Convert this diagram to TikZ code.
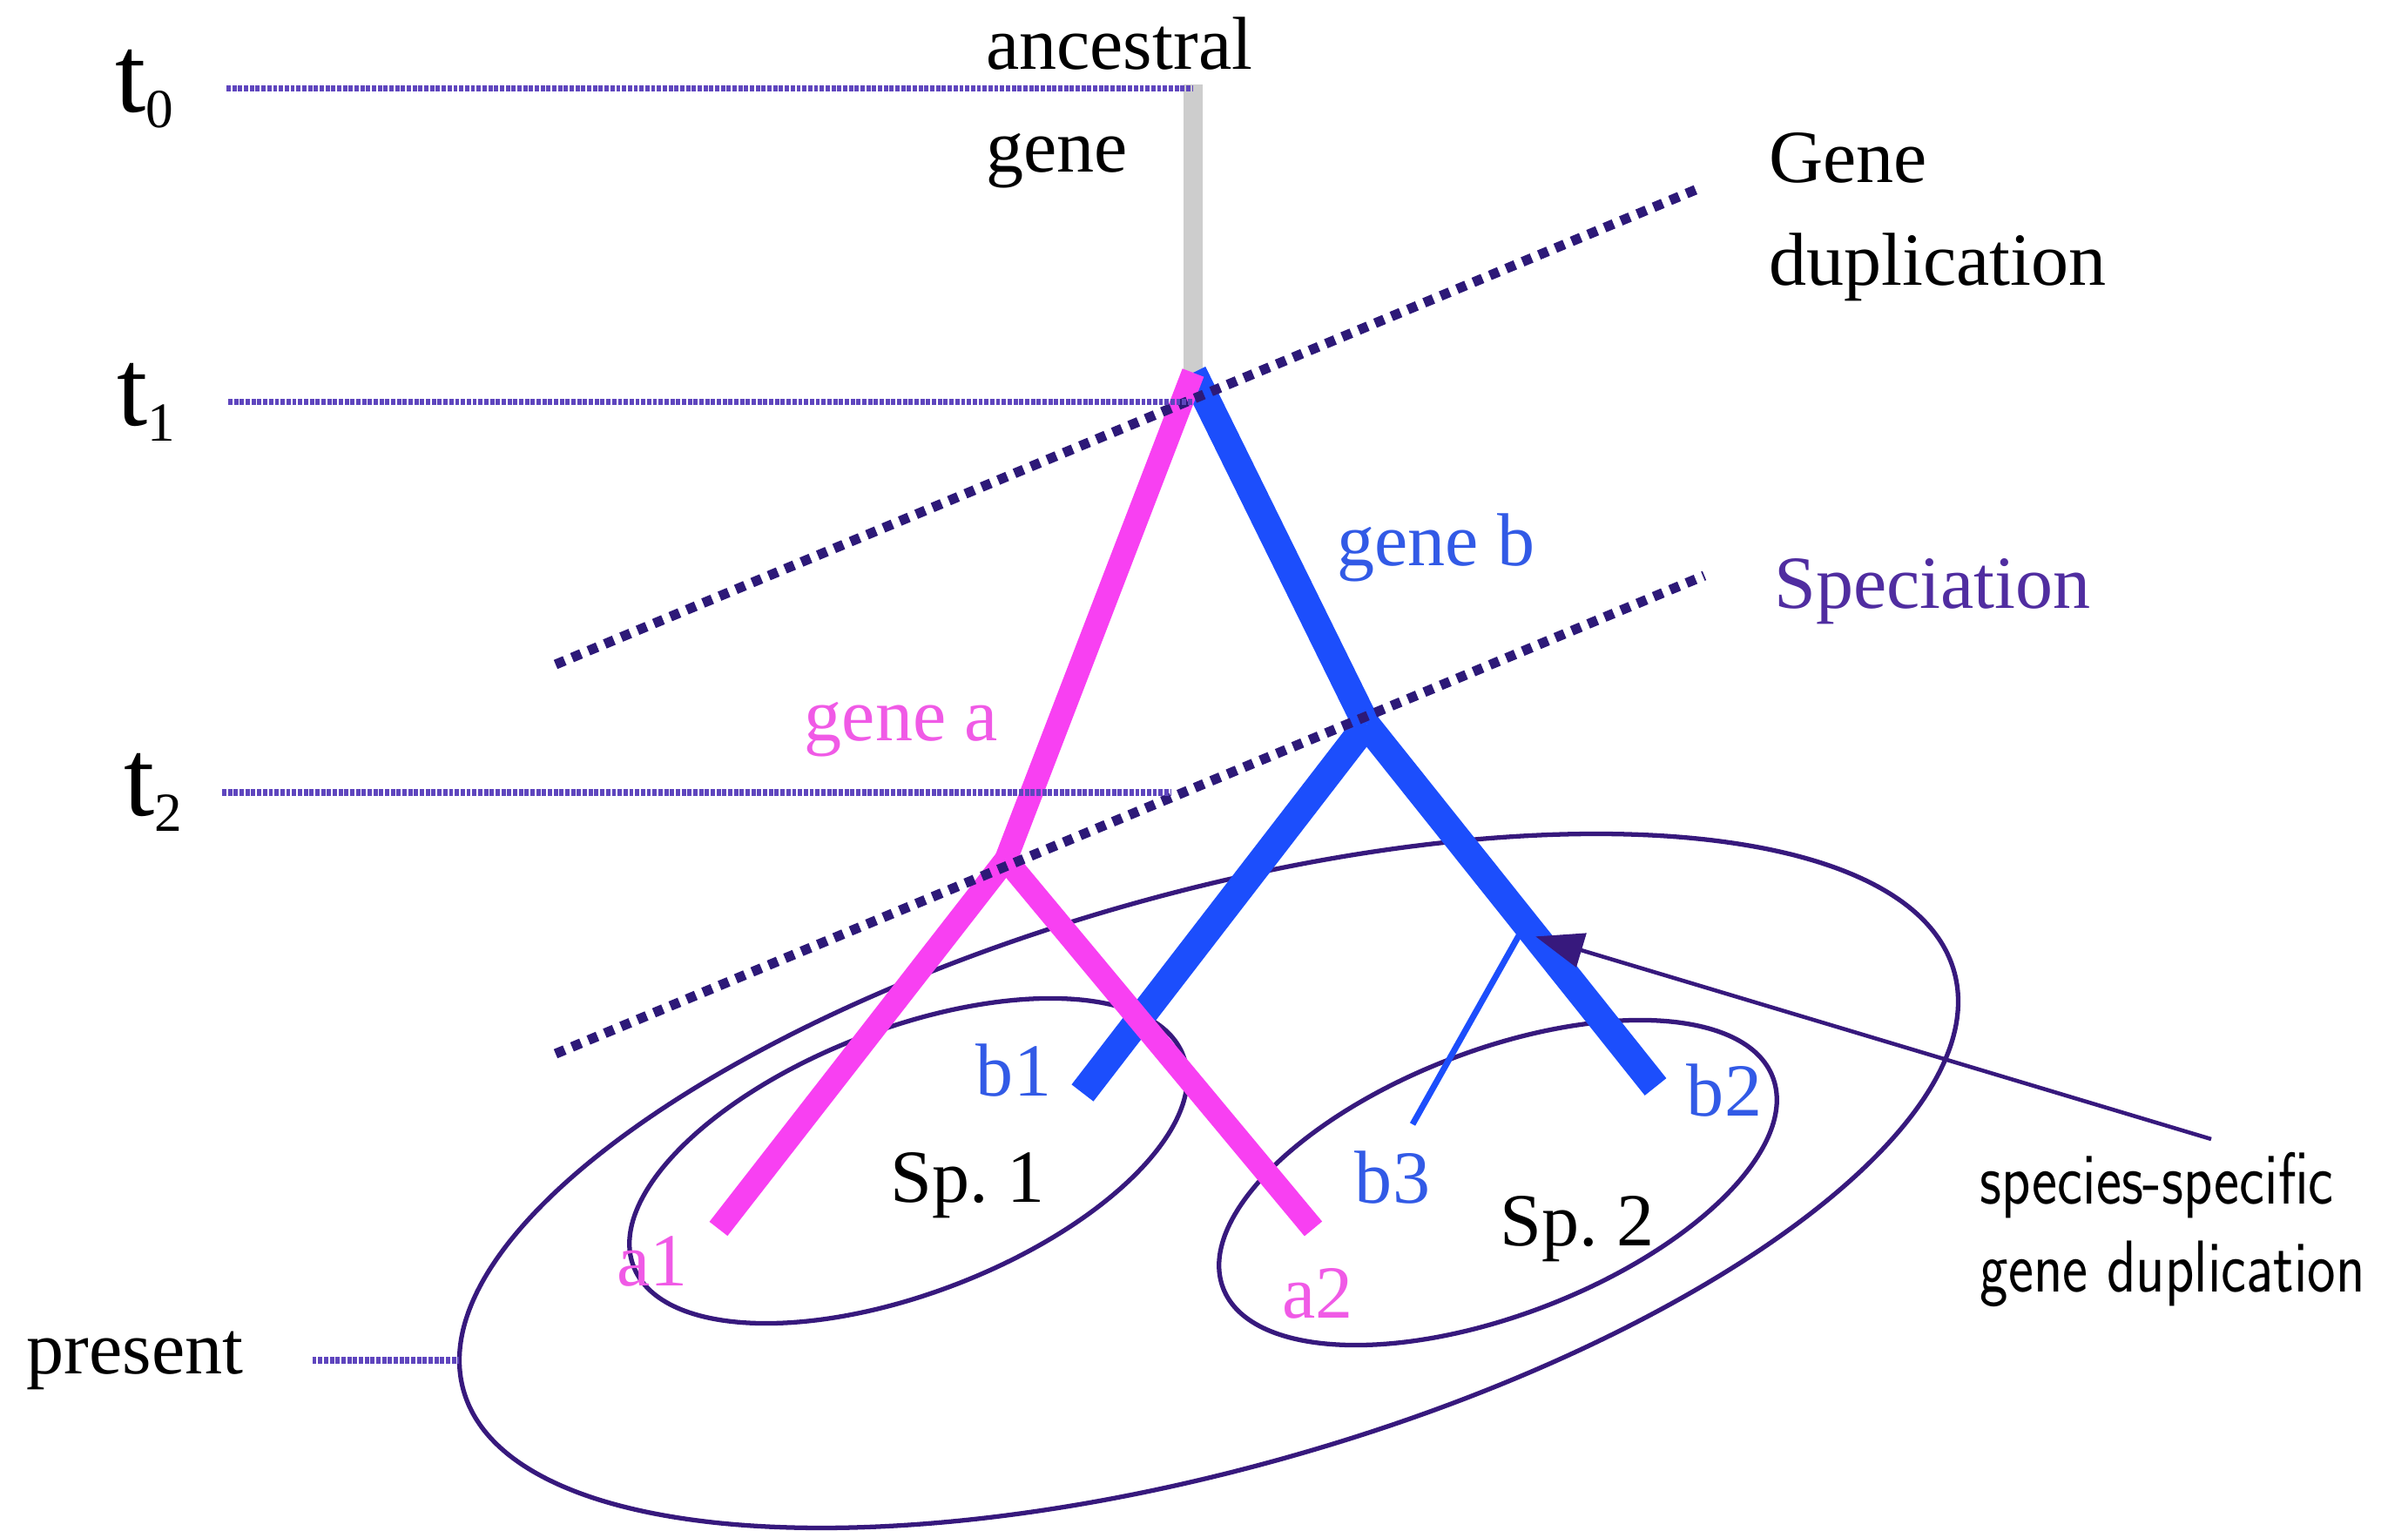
\documentclass[tikz,border=0pt]{standalone}
\usepackage{fontspec}
\setmainfont{Liberation Serif}
\usepackage{tikz}
\usetikzlibrary{positioning,calc,arrows.meta}
\definecolor{timepurple}{RGB}{95,70,190}
\definecolor{eventnavy}{RGB}{45,25,120}
\definecolor{ringpurple}{RGB}{55,25,125}
\definecolor{genepink}{RGB}{248,64,242}
\definecolor{geneblue}{RGB}{28,78,252}
\definecolor{labelblue}{RGB}{50,90,230}
\definecolor{labelpink}{RGB}{240,90,230}
\definecolor{specpurple}{RGB}{80,45,160}
\definecolor{stemgray}{RGB}{205,205,205}
\newcommand{\tstamp}[1]{t\raisebox{-5pt}{\fontsize{18}{20}\selectfont #1}}
\newcommand{\narrowtxt}[1]{\scalebox{0.82}[1]{#1}}

\begin{document}
\begin{tikzpicture}[
  tlab/.style={font=\fontsize{36}{40}\selectfont,inner sep=0pt},
  txt/.style={font=\fontsize{24.5}{33.5}\selectfont,inner sep=1pt},
  timeline/.style={color=timepurple,line width=2pt,dash pattern=on 1.4pt off 0.5pt},
  eventline/.style={color=eventnavy,line width=3.2pt,dash pattern=on 3.2pt off 2.6pt},
  ring/.style={color=ringpurple,line width=1.5pt},
  brA/.style={color=genepink,line width=7.5pt},
  brB/.style={color=geneblue,line width=9pt},
  pointer/.style={color=ringpurple,line width=1.3pt,-{Triangle[length=0.55cm,width=0.4cm]}}]
  \useasboundingbox (0,0) rectangle (27.65,17.58);
  % gene tree points
  \coordinate (root) at (13.70,16.61);
  \coordinate (dup)  at (13.70,13.30);
  \coordinate (spA)  at (11.55,7.71);
  \coordinate (spB)  at (15.69,9.26);
  \coordinate (a1e)  at (8.25,3.47);
  \coordinate (a2e)  at (15.08,3.47);
  \coordinate (b1e)  at (12.43,5.03);
  \coordinate (b2e)  at (19.01,5.10);
  \coordinate (b3e)  at (16.22,4.67);
  \coordinate (b3s)  at ($(spB)!0.55!(b2e)$);
  \coordinate (tip)  at ($(spB)!0.585!(b2e)$);
  \coordinate (ptail) at (25.39,4.50);
  % event lines and ends
  \coordinate (gdL) at (6.38,9.95);  \coordinate (gdR) at (19.54,15.43);
  \coordinate (spcL) at (6.38,5.48); \coordinate (spcR) at (19.57,10.97);
  \coordinate (t2end) at (13.44,8.48);
  \coordinate (presEnd) at (5.27,1.96);
  % species rings
  \draw[ring,rotate around={15.7:(13.88,4.02)}] (13.88,4.02) ellipse (8.89 and 3.30);
  \draw[ring,rotate around={21:(10.43,4.25)}] (10.43,4.25) ellipse (3.38 and 1.52);
  \draw[ring,rotate around={21:(17.20,4.00)}] (17.20,4.00) ellipse (3.38 and 1.52);
  % branches
  \draw[color=stemgray,line width=6.5pt] (root) -- (dup);
  \draw[brB] (dup) -- (spB); \draw[brB] (spB) -- (b1e); \draw[brB] (spB) -- (b2e);
  \draw[color=geneblue,line width=2pt] (b3s) -- (b3e);
  \draw[brA] (dup) -- (spA); \draw[brA] (spA) -- (a1e); \draw[brA] (spA) -- (a2e);
  \draw[eventline] (gdL) -- (gdR);
  \draw[eventline] (spcL) -- (spcR);
  % time axis
  \node[tlab] (t0) at (1.66,16.56) {\tstamp{0}};
  \node[tlab] (t1) at (1.68,12.96) {\tstamp{1}};
  \node[tlab] (t2) at (1.76,8.48) {\tstamp{2}};
  \node[txt] (pres) at (1.55,1.96) {present};
  \draw[timeline] ([xshift=0.6cm]t0.east) -- (t0.east -| root);
  \draw[timeline] ([xshift=0.6cm]t1.east) -- (t1.east -| dup);
  \draw[timeline] ([xshift=0.45cm]t2.east) -- (t2end);
  \draw[timeline] ([xshift=0.75cm]pres.east) -- (presEnd);
  \draw[pointer] (ptail) -- (tip);
  % labels
  \node[txt,anchor=west,align=left] (anc) at (11.28,16.40) {ancestral\\gene};
  \node[txt,anchor=west,align=left] (gdlab) at (20.27,15.09) {Gene\\duplication};
  \node[txt,anchor=west,text=specpurple] (spclab) at (20.33,10.79) {Speciation};
  \node[txt,text=labelblue] (gb) at (16.49,11.29) {gene b};
  \node[txt,text=labelpink] (ga) at (10.35,9.20) {gene a};
  \node[txt,text=labelblue] (lb1) at (11.64,5.29) {b1};
  \node[txt,text=labelpink] (la1) at (7.49,3.09) {a1};
  \node[txt,text=labelpink] (la2) at (15.13,2.73) {a2};
  \node[txt,text=labelblue] (lb3) at (15.99,4.06) {b3};
  \node[txt,text=labelblue] (lb2) at (19.80,5.06) {b2};
  \node[txt] (sp1lab) at (11.11,3.97) {Sp.~1};
  \node[txt] (sp2lab) at (18.11,3.47) {Sp.~2};
  \node[anchor=west,align=left,inner sep=0pt,font=\sffamily\fontsize{24}{29}\selectfont] (ssgd)
    at (22.73,3.46) {\narrowtxt{species-specific}\\\narrowtxt{gene duplication}};
\end{tikzpicture}
\end{document}
